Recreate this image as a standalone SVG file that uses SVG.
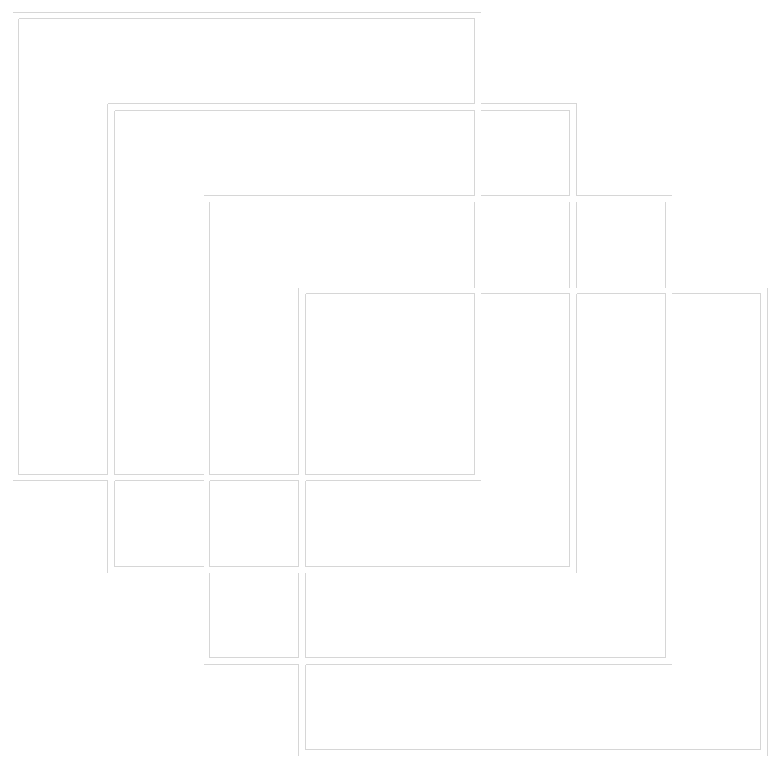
<svg xmlns="http://www.w3.org/2000/svg" width="777" height="768" viewBox="0 0 777 768">
  <style>
    .edge { fill: none; stroke: #d6d6d6; stroke-width: 1; shape-rendering: crispEdges; }
  </style>
  <rect x="0" y="0" width="777" height="768" fill="#ffffff"/>
  <g id="square-1">
    <path class="edge" d="M12.5 12.5 H480.5 M18.5 18.5 H474.5 M18.5 18.5 V474.5
      M474.5 18.5 V103.5 M474.5 110.5 V195.5 M474.5 201.5 V287.5 M474.5 293.5 V474.5
      M18.5 474.5 H107.5 M114.5 474.5 H203.5 M209.5 474.5 H298.5 M305.5 474.5 H474.5
      M12.5 480.5 H107.5 M114.5 480.5 H203.5 M209.5 480.5 H298.5 M305.5 480.5 H480.5"/>
  </g>
  <g id="square-2">
    <path class="edge" d="M107.5 103.5 H474.5 M480.5 103.5 H576.5
      M114.5 110.5 H474.5 M480.5 110.5 H569.5
      M107.5 103.5 V474.5 M107.5 480.5 V572.5
      M114.5 110.5 V474.5 M114.5 480.5 V566.5
      M569.5 110.5 V195.5 M569.5 201.5 V287.5 M569.5 293.5 V566.5
      M576.5 103.5 V195.5 M576.5 201.5 V287.5 M576.5 293.5 V572.5
      M114.5 566.5 H203.5 M209.5 566.5 H298.5 M305.5 566.5 H569.5"/>
  </g>
  <g id="square-3">
    <path class="edge" d="M203.5 195.5 H474.5 M480.5 195.5 H569.5 M576.5 195.5 H671.5
      M209.5 201.5 V474.5 M209.5 480.5 V566.5 M209.5 572.5 V657.5
      M665.5 201.5 V287.5 M665.5 293.5 V657.5
      M209.5 657.5 H298.5 M305.5 657.5 H665.5
      M203.5 664.5 H298.5 M305.5 664.5 H671.5"/>
  </g>
  <g id="square-4">
    <path class="edge" d="M298.5 287.5 V474.5 M298.5 480.5 V566.5 M298.5 572.5 V657.5 M298.5 664.5 V755.5
      M305.5 293.5 V474.5 M305.5 480.5 V566.5 M305.5 572.5 V657.5 M305.5 664.5 V749.5
      M760.5 293.5 V749.5
      M767.5 287.5 V755.5
      M305.5 293.5 H474.5 M480.5 293.5 H569.5 M576.5 293.5 H665.5 M671.5 293.5 H760.5
      M305.5 749.5 H760.5"/>
  </g>
  <g id="connectors"></g>
</svg>
